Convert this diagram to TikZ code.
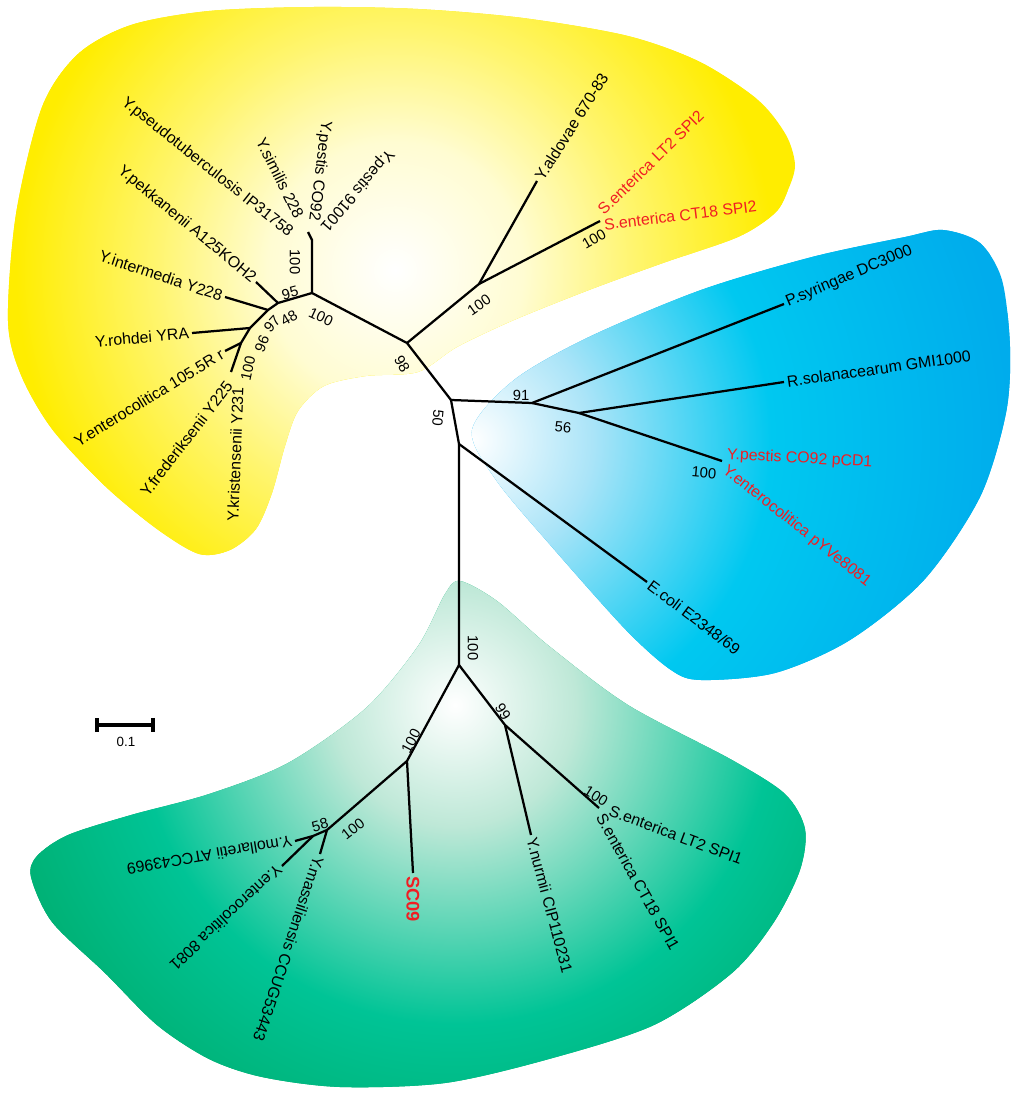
\documentclass[tikz,border=0pt]{standalone}
\usepackage{fontspec}
\setmainfont{Liberation Sans}
\usetikzlibrary{arrows.meta}

\definecolor{yelfill}{RGB}{255,237,0}
\definecolor{yelmid}{RGB}{255,245,110}
\definecolor{yelpale}{RGB}{255,252,210}
\definecolor{bluelt}{RGB}{170,228,248}
\definecolor{bluecy}{RGB}{0,200,240}
\definecolor{blueedge}{RGB}{0,172,236}
\definecolor{grnlt}{RGB}{190,232,215}
\definecolor{grnmid}{RGB}{0,196,150}
\definecolor{grnedge}{RGB}{0,172,108}
\definecolor{hotred}{RGB}{240,30,35}

\pgfdeclareradialshading{yelshade}{\pgfpoint{0bp}{0bp}}{color(0bp)=(white); color(8bp)=(yelpale); color(15bp)=(yelmid); color(23.7bp)=(yelfill); color(50bp)=(yelfill)}
\pgfdeclareradialshading{blueshade}{\pgfpoint{0bp}{0bp}}{color(0bp)=(white); color(5.5bp)=(bluelt); color(13.6bp)=(bluecy); color(24.5bp)=(blueedge); color(50bp)=(blueedge)}
\pgfdeclareradialshading{grnshade}{\pgfpoint{0bp}{0bp}}{color(0bp)=(white); color(5.5bp)=(grnlt); color(14.5bp)=(grnmid); color(22.7bp)=(grnedge); color(50bp)=(grnedge)}

\begin{document}
\begin{tikzpicture}[x=0.25mm, y=-0.25mm, br/.style={line width=1.6pt, line join=round}, leaf/.style={font=\fontsize{11.3}{13}\selectfont, inner sep=2pt}, hot/.style={leaf, text=hotred}, bs/.style={font=\fontsize{10.5}{12}\selectfont, inner sep=0pt}]
                \useasboundingbox (0,0) rectangle (1024,1100);
                % clades
                \begin{scope}
                \clip plot[smooth cycle] coordinates {(8,321) (16,214) (42,107) (78,54) (131,25) (209,11) (314,7) (418,9) (523,18) (628,36) (700,62) (758,100) (786,135) (795,165) (788,190) (775,213) (738,237) (663,263) (589,290) (514,320) (457,347) (418,372) (366,376) (324,386) (298,411) (285,446) (272,493) (256,529) (230,550) (199,554) (157,529) (105,486) (52,429) (21,375)};
                \fill[yelfill] (0,0) rectangle (1024,1100);
                \shade[shading=yelshade] (395,270) circle (400);
                \end{scope}
                \begin{scope}
                \clip plot[smooth cycle] coordinates {(472,430) (514,380) (589,337) (701,290) (812,257) (905,237) (943,230) (980,243) (1002,280) (1010,347) (1006,413) (980,497) (924,580) (850,640) (775,673) (701,680) (671,670) (626,630) (552,547) (496,480)};
                \fill[blueedge] (0,0) rectangle (1024,1100);
                \shade[shading=blueshade] (472,440) circle (550);
                \end{scope}
                \begin{scope}
                \clip plot[smooth cycle] coordinates {(460,581) (497,601) (549,646) (628,705) (732,760) (785,794) (805,829) (800,870) (774,922) (732,973) (654,1025) (549,1059) (445,1083) (340,1087) (262,1077) (209,1059) (157,1025) (105,973) (52,922) (31,877) (37,856) (68,835) (131,815) (209,794) (288,763) (366,708) (418,646) (445,594)};
                \fill[grnedge] (0,0) rectangle (1024,1100);
                \shade[shading=grnshade] (455,705) circle (550);
                \end{scope}
                % nodes
                \coordinate (nA) at (407,343);
                \coordinate (nB) at (312,293);
                \coordinate (nP) at (312,240);
                \coordinate (tP) at (308,232);
                \coordinate (n95) at (278,303);
                \coordinate (n48) at (268,310);
                \coordinate (n97) at (250,328);
                \coordinate (n96) at (241,343);
                \coordinate (tFK) at (231,372);
                \coordinate (tPek) at (256,282);
                \coordinate (tInt) at (225,297);
                \coordinate (tYro) at (192,333);
                \coordinate (tE105) at (225,351);
                \coordinate (nD) at (479,284);
                \coordinate (tAld) at (537,181);
                \coordinate (tSPI2) at (600,221);
                \coordinate (nE) at (451,400);
                \coordinate (nF) at (532,403);
                \coordinate (nG) at (579,413);
                \coordinate (tPsy) at (784,304);
                \coordinate (tRso) at (784,382);
                \coordinate (tPCD) at (722,461);
                \coordinate (nH) at (459,444);
                \coordinate (tEco) at (647,582);
                \coordinate (nI) at (459,665);
                \coordinate (nJ) at (407,761);
                \coordinate (tSC) at (413,873);
                \coordinate (nL) at (327,830);
                \coordinate (nM) at (313,836);
                \coordinate (tMol) at (295,841);
                \coordinate (tE81) at (282,866);
                \coordinate (tMas) at (320,854);
                \coordinate (nK) at (505,725);
                \coordinate (tNur) at (531,835);
                \coordinate (tSPI1) at (599,808);
                \coordinate (sbL) at (95,725);
                \coordinate (sbR) at (155,725);
                % edges
                \draw[br] (nA) -- (nB) -- (nP) -- (tP);
                \draw[br] (nB) -- (n95) -- (n48) -- (n97) -- (n96) -- (tFK);
                \draw[br] (n95) -- (tPek);
                \draw[br] (n48) -- (tInt);
                \draw[br] (n97) -- (tYro);
                \draw[br] (n96) -- (tE105);
                \draw[br] (nA) -- (nD) -- (tAld);
                \draw[br] (nD) -- (tSPI2);
                \draw[br] (nA) -- (nE) -- (nF) -- (tPsy);
                \draw[br] (nF) -- (nG) -- (tRso);
                \draw[br] (nG) -- (tPCD);
                \draw[br] (nE) -- (nH) -- (tEco);
                \draw[br] (nH) -- (nI) -- (nJ) -- (tSC);
                \draw[br] (nJ) -- (nL) -- (nM) -- (tMol);
                \draw[br] (nM) -- (tE81);
                \draw[br] (nL) -- (tMas);
                \draw[br] (nI) -- (nK) -- (tNur);
                \draw[br] (nK) -- (tSPI1);
                \draw[line width=2.6pt, {Bar[width=10pt]}-{Bar[width=10pt]}] (sbL) -- (sbR);
                % leaves
                \node[leaf, anchor=east, rotate=-38.5] (lPtb) at (293,236) {Y.pseudotuberculosis IP31758};
                \node[leaf, anchor=east, rotate=-63.5] (lSim) at (301,220) {Y.similis 228};
                \node[leaf, anchor=east, rotate=-97] (lPco) at (313,224) {Y.pestis CO92};
                \node[leaf, anchor=east, rotate=229] (lP91) at (321,231) {Y.pestis 91001};
                \node[leaf, anchor=east, rotate=-39.6] (lPek) at (tPek) {Y.pekkanenii A125KOH2};
                \node[leaf, anchor=east, rotate=-18.4] (lInt) at (tInt) {Y.intermedia Y228};
                \node[leaf, anchor=east, rotate=5] (lYro) at (tYro) {Y.rohdei YRA};
                \node[leaf, anchor=east, rotate=31.4] (lE105) at (tE105) {Y.enterocolitica 105.5R r};
                \node[leaf, anchor=east, rotate=52.4] (lFre) at (231,381) {Y.frederiksenii Y225};
                \node[leaf, anchor=east, rotate=87.8] (lKri) at (238,384) {Y.kristensenii Y231};
                \node[leaf, anchor=west, rotate=57.6] (lAld) at (tAld) {Y.aldovae 670-83};
                \node[hot, anchor=west, rotate=44.4] (lLT2) at (598,214) {S.enterica LT2 SPI2};
                \node[hot, anchor=west, rotate=7] (lCT2) at (601,225) {S.enterica CT18 SPI2};
                \node[leaf, anchor=west, rotate=23] (lPsy) at (tPsy) {P.syringae DC3000};
                \node[leaf, anchor=west, rotate=8] (lRso) at (tRso) {R.solanacearum GMI1000};
                \node[hot, anchor=west, rotate=-3] (lPCD) at (724,455) {Y.pestis CO92 pCD1};
                \node[hot, anchor=west, rotate=-38.4] (lPYV) at (722,467) {Y.enterocolitica pYVe8081};
                \node[leaf, anchor=west, rotate=-37] (lEco) at (tEco) {E.coli E2348/69};
                \node[leaf, text=hotred, font=\fontsize{13}{15}\selectfont\bfseries, anchor=west, rotate=-90] (lSC) at (tSC) {SC09};
                \node[leaf, anchor=west, rotate=189.5] (lMol) at (tMol) {Y.mollaretii ATCC43969};
                \node[leaf, anchor=west, rotate=222.8] (lE81) at (tE81) {Y.enterocolitica 8081};
                \node[leaf, anchor=west, rotate=251.7] (lMas) at (tMas) {Y.massiliensis CCUG53443};
                \node[leaf, anchor=west, rotate=-75] (lNur) at (tNur) {Y.nurmii CIP110231};
                \node[leaf, anchor=west, rotate=-20.6] (lLT1) at (607,809) {S.enterica LT2 SPI1};
                \node[leaf, anchor=west, rotate=-60.8] (lCT1) at (599,812) {S.enterica CT18 SPI1};
                % bootstrap values
                \node[bs, rotate=-90] (b1) at (295,262) {100};
                \node[bs, rotate=15] (b2) at (290,293) {95};
                \node[bs, rotate=30] (b3) at (289,318) {48};
                \node[bs, rotate=48] (b4) at (272,324) {97};
                \node[bs, rotate=68] (b5) at (262,344) {96};
                \node[bs, rotate=78] (b6) at (248,368) {100};
                \node[bs, rotate=-25] (b7) at (321,317) {100};
                \node[bs, rotate=-60] (b8) at (402,364) {98};
                \node[bs, rotate=35] (b9) at (479,305) {100};
                \node[bs, rotate=30] (b10) at (594,239) {100};
                \node[bs] (b11) at (521,395) {91};
                \node[bs, rotate=-5] (b12) at (563,427) {56};
                \node[bs, rotate=-5] (b13) at (704,473) {100};
                \node[bs, rotate=-95] (b14) at (438,418) {50};
                \node[bs, rotate=-90] (b15) at (473,648) {100};
                \node[bs, rotate=62] (b16) at (411,741) {100};
                \node[bs, rotate=15] (b17) at (320,825) {58};
                \node[bs, rotate=38] (b18) at (353,829) {100};
                \node[bs, rotate=-58] (b19) at (503,712) {99};
                \node[bs, rotate=-32] (b20) at (596,796) {100};
                \node[bs, font=\fontsize{9.5}{11}\selectfont] (sbT) at (126,742) {0.1};
            \end{tikzpicture}
\end{document}
